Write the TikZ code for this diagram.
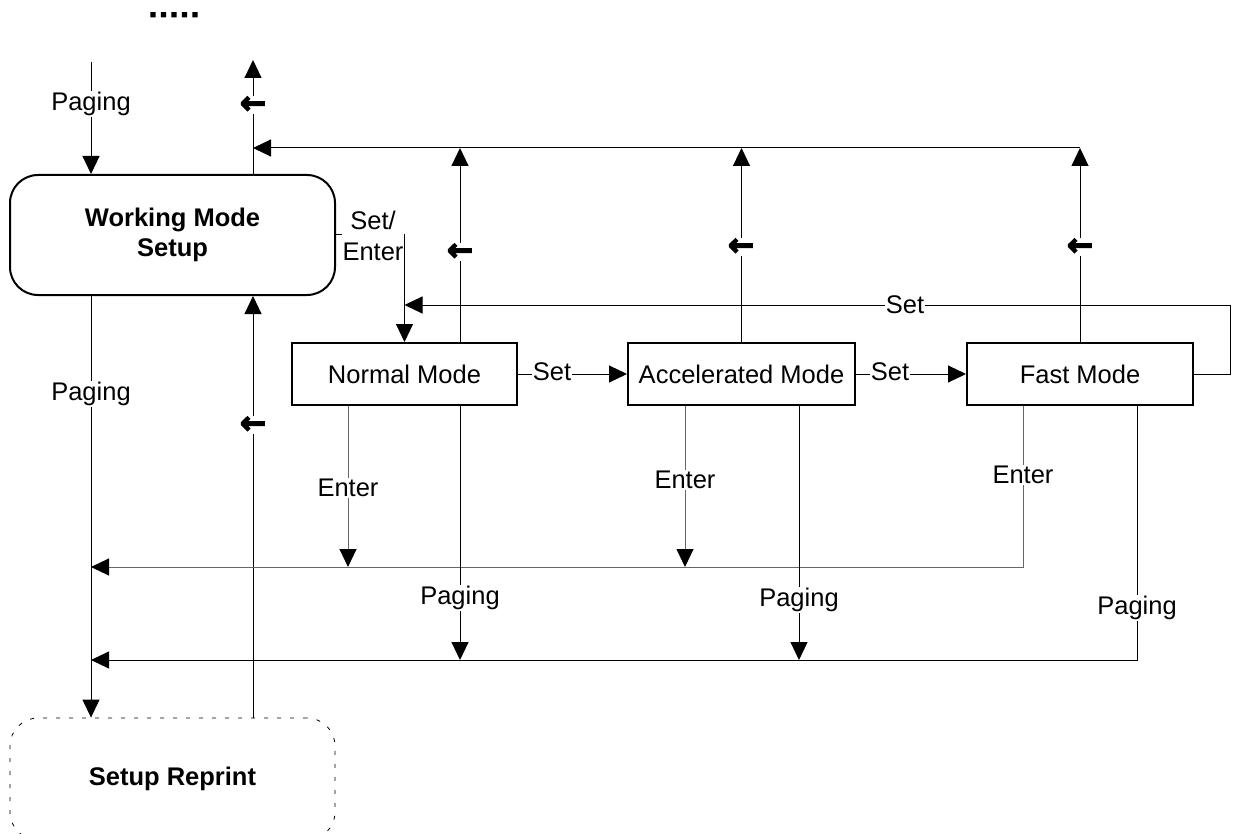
\documentclass[tikz,border=0pt]{standalone}
\usepackage{fontspec}
\setmainfont{Liberation Sans}
\newfontface\arrowface[FakeBold=4]{DejaVu Sans Bold}
\newfontface\dotface[FakeBold=14]{Liberation Sans Bold}
\usetikzlibrary{arrows.meta}
\begin{document}
\begin{tikzpicture}[x=1pt,y=-1pt,
  every node/.style={font=\fontsize{25.5}{31}\selectfont},
  conn/.style={line width=1pt, draw=black},
  arr/.style={conn, -{Triangle[length=18pt,width=17pt]}},
  gconn/.style={line width=1pt, draw=black!60},
  garr/.style={gconn, -{Triangle[length=18pt,width=17pt,color=black]}},
  lbl/.style={fill=white, inner sep=1pt},
  back/.style={fill=white, inner sep=0.5pt, font=\arrowface\fontsize{31}{31}\selectfont},
  modebox/.style={draw, line width=2pt, minimum height=62pt, inner sep=0pt},
  bigbox/.style={draw, line width=2pt, rounded corners=28pt, minimum width=325pt, minimum height=120pt, align=center, font=\bfseries\fontsize{25.5}{30}\selectfont},
]
\useasboundingbox (0,0) rectangle (1233,834);

% nodes
\node[font=\dotface\fontsize{18}{18}\selectfont, anchor=base, inner sep=0pt] (dots) at (174,16) {.\kern5.5pt.\kern5.5pt.\kern5.5pt.\kern5.5pt.};
\node[bigbox] (wms) at (172.5,235) {Working Mode\\Setup};
\node[bigbox, dash pattern=on 4pt off 9pt, line width=0.8pt, minimum height=122pt] (sr) at (172.5,779) {Setup Reprint};
\node[modebox, minimum width=225pt] (nm) at (404.5,374) {Normal Mode};
\node[modebox, minimum width=227pt] (am) at (741.5,374) {Accelerated Mode};
\node[modebox, minimum width=226pt] (fm) at (1080,374) {Fast Mode};

% coordinates
\coordinate (pin) at (91,62);
\coordinate (pout) at (253,60);
\coordinate (topl) at (253,148);
\coordinate (nmup) at (460,148);
\coordinate (setj) at (404.5,305);
\coordinate (loopx) at (1230,305);
\coordinate (entl) at (91,567);
\coordinate (pagl) at (91,660);
\coordinate (enA) at (348,567);
\coordinate (enB) at (685,567);
\coordinate (enC) at (1023,567);
\coordinate (pgA) at (460,660);
\coordinate (pgB) at (799,660);
\coordinate (pgC) at (1137,660);

% connectors
\draw[arr] (pin) -- (pin |- wms.north);
\draw[arr] (pout |- wms.north) -- (pout);
\draw[arr] (fm.north |- topl) -- (topl);
\draw[arr] (nm.north -| nmup) -- (nmup);
\draw[arr] (am.north) -- (am.north |- topl);
\draw[arr] (fm.north) -- (fm.north |- topl);
\draw[arr] (wms.east) -| (nm.north);
\draw[arr] (fm.east) -- (fm.east -| loopx) -- (loopx) -- (setj);
\draw[arr] (nm.east) -- (am.west);
\draw[arr] (am.east) -- (fm.west);
\draw[arr] (wms.south -| pin) -- (sr.north -| pin);
\draw[arr] (sr.north -| pout) -- (wms.south -| pout);
\draw[garr] (nm.south -| enA) -- (enA);
\draw[garr] (am.south -| enB) -- (enB);
\draw[garr] (fm.south -| enC) -- (enC) -- (entl);
\draw[arr] (nm.south -| pgA) -- (pgA);
\draw[arr] (am.south -| pgB) -- (pgB);
\draw[arr] (fm.south -| pgC) -- (pgC) -- (pagl);

% labels
\node[lbl] (lp1) at (91,104) {Paging};
\node[lbl] (lp2) at (91,394) {Paging};
\node[back] (b1) at (253,105) {←};
\node[back] (b2) at (253,425) {←};
\node[back] (b3) at (460,252) {←};
\node[back] (b4) at (741,247) {←};
\node[back] (b5) at (1080,247) {←};
\node[lbl, align=center] (lse) at (373,236) {Set/\\Enter};
\node[lbl] (ls1) at (552,372) {Set};
\node[lbl] (ls2) at (890,372) {Set};
\node[lbl] (ls3) at (905,305) {Set};
\node[lbl] (le1) at (348,488) {Enter};
\node[lbl] (le2) at (685,480) {Enter};
\node[lbl] (le3) at (1023,475) {Enter};
\node[lbl] (lg1) at (460,598) {Paging};
\node[lbl] (lg2) at (799,600) {Paging};
\node[lbl] (lg3) at (1137,608) {Paging};
\end{tikzpicture}
\end{document}
